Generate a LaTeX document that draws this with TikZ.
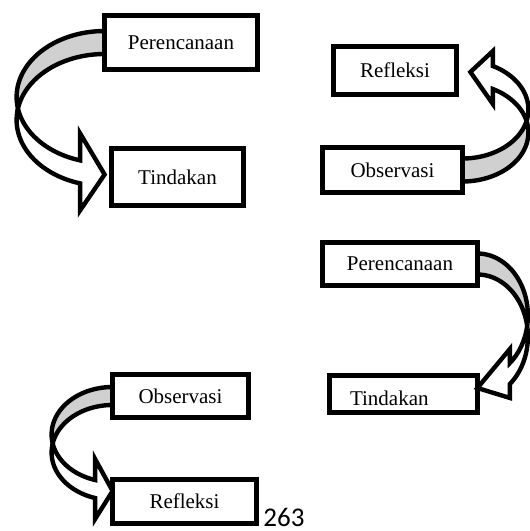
\documentclass[tikz,border=0pt]{standalone}
\usepackage{fontspec}
\setmainfont{Liberation Serif}
\newfontfamily\halfont{Carlito}
\usepackage{tikz}
\usetikzlibrary{positioning, backgrounds}

\definecolor{abu}{RGB}{208,208,208}

% panah melengkung: #1 lebar, #2 jari-jari tegak, #3 tebal, #4 panjang kepala, #5 sayap, #6 geser ujung
\newcommand{\lengkung}[6]{%
  \pgfmathsetmacro{\lgA}{asin((#3)/(2*(#2)))}%
  \pgfmathsetmacro{\lgP}{180-\lgA}%
  \pgfmathsetmacro{\lgQ}{180+\lgA}%
  \pgfmathsetmacro{\lgK}{acos(-(#4)/(#1))}%
  \pgfmathsetmacro{\lgY}{(#2)-(#3)/2+(#2)*sin(\lgK)}%
  \pgfmathsetmacro{\lgZ}{\lgY+(#3)}%
  \filldraw[belakang] plot[domain=270:\lgP] ({(#1)*cos(\x)},{(#2)-(#3)/2+(#2)*sin(\x)})
    -- plot[domain=\lgQ:270] ({(#1)*cos(\x)},{(#2)+(#3)/2+(#2)*sin(\x)}) -- cycle;
  \filldraw[depan] plot[domain=\lgP:\lgK] ({(#1)*cos(\x)},{(#2)-(#3)/2+(#2)*sin(\x)})
    -- (-#4,\lgY-#5) -- (#6,2*#2) -- (-#4,\lgZ+#5)
    -- plot[domain=\lgK:\lgQ] ({(#1)*cos(\x)},{(#2)+(#3)/2+(#2)*sin(\x)}) -- cycle;
}

\begin{document}
\begin{tikzpicture}[x=0.5pt, y=-0.5pt, samples=40,
    kotak/.style={rectangle, draw, line width=2.7pt, outer sep=0pt, inner sep=0pt,
      font=\fontsize{10.5}{12}\selectfont},
    belakang/.style={draw, fill=abu, line width=2.2pt},
    depan/.style={draw, fill=white, line width=2.2pt}]
    \useasboundingbox (0,0) rectangle (530,531);
    % siklus I
    \node[kotak, minimum width=76.4pt, minimum height=26.9pt] (perencanaan1) at (181,42.5) {Perencanaan};
    \node[kotak, minimum width=65.9pt, minimum height=28.4pt] (tindakan1) at (177.5,177) {Tindakan};
    \node[kotak, minimum width=69.9pt, minimum height=22.4pt] (observasi1) at (392.5,170) {Observasi};
    \node[kotak, minimum width=61.4pt, minimum height=23.9pt] (refleksi1) at (395,70.5) {Refleksi};
    % siklus II
    \node[kotak, minimum width=77.4pt, minimum height=21.4pt] (perencanaan2) at (400,264) {Perencanaan};
    \node[kotak, minimum width=73.9pt, minimum height=18.3pt, text width=53.5pt, align=left,
      text height=11pt, text depth=0pt] (tindakan2) at (403.5,394) {Tindakan};
    \node[kotak, minimum width=67.9pt, minimum height=21.4pt] (observasi2) at (180.5,396) {Observasi};
    \node[kotak, minimum width=71.9pt, minimum height=21.9pt] (refleksi2) at (184.5,501.5) {Refleksi};
    \node[anchor=base west, inner sep=0pt, font=\halfont\fontsize{13.5}{16}\selectfont] (halaman) at (263,526) {263};

    \begin{scope}[on background layer, shift={(perencanaan1.west)}]
        \lengkung{88}{66}{23}{24.5}{27}{0}
    \end{scope}
    \begin{scope}[on background layer, shift={(observasi1.east)}, xscale=-1, yscale=-1]
        \lengkung{66}{49}{23}{30.5}{15}{-8}
    \end{scope}
    \begin{scope}[on background layer, shift={(perencanaan2.east)}, xscale=-1]
        \lengkung{50.5}{62}{21}{32.5}{14}{0}
    \end{scope}
    \begin{scope}[on background layer, shift={(observasi2.west)}]
        \lengkung{61}{47.5}{18}{17.5}{21}{0}
    \end{scope}
\end{tikzpicture}
\end{document}
